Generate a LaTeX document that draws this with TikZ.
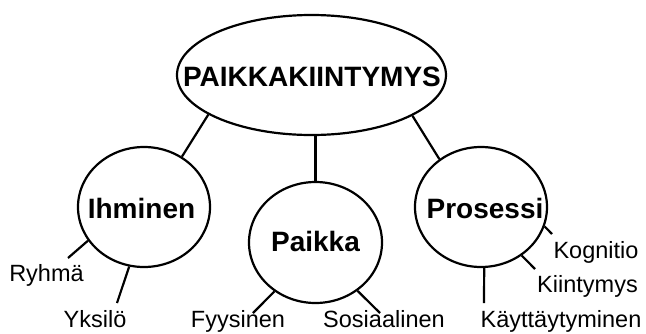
\documentclass[tikz,border=0pt]{standalone}
\usepackage{fontspec}
\setmainfont{Liberation Sans}
\usetikzlibrary{shapes.geometric, positioning, calc}

\begin{document}
\begin{tikzpicture}[x=1pt, y=-1pt, line width=2.2pt,
    blob/.style={draw, ellipse, inner sep=0pt},
    title/.style={inner sep=0pt, anchor=base, font=\fontsize{28}{28}\selectfont\bfseries},
    leaf/.style={inner sep=0pt, anchor=base, font=\fontsize{23.5}{23.5}\selectfont}]
    \useasboundingbox (0,0) rectangle (646,333);

    % Draw the main concept
    \node[blob, minimum width=269pt, minimum height=120pt] (top) at (311.5,75) {};
    \node[title] (top-t) at (312,86) {PAIKKAKIINTYMYS};

    % Draw the three dimensions
    \node[blob, minimum width=132pt, minimum height=120pt] (ihminen) at (144,207) {};
    \node[title] (ihminen-t) at (141.5,218) {Ihminen};
    \node[blob, minimum width=133pt, minimum height=121pt] (paikka) at (315.5,242.5) {};
    \node[title] (paikka-t) at (315.5,251) {Paikka};
    \node[blob, minimum width=132pt, minimum height=120pt] (prosessi) at (481,207) {};
    \node[title] (prosessi-t) at (485,218) {Prosessi};

    % Connect the dimensions to the main concept
    \draw (top.201) -- (ihminen.53);
    \draw (top.south -| paikka.north) -- (paikka.north);
    \draw (top.338) -- (prosessi.131);

    % Draw the sub-concepts
    \node[leaf] (ryhma) at (46.5,281) {Ryhmä};
    \node[leaf] (yksilo) at (95,327) {Yksilö};
    \node[leaf] (fyysinen) at (238,327) {Fyysinen};
    \node[leaf] (sosiaalinen) at (384,327) {Sosiaalinen};
    \node[leaf] (kognitio) at (596,258) {Kognitio};
    \node[leaf] (kiintymys) at (587.5,292) {Kiintymys};
    \node[leaf] (kaytt) at (561,327) {Käyttäytyminen};

    % Free ends of the connectors
    \coordinate (ryhma-end) at (68,258);
    \coordinate (yksilo-end) at (117,303);
    \coordinate (fyysinen-end) at (253,313);
    \coordinate (sosiaalinen-end) at (380,313);
    \coordinate (kognitio-end) at (552,234);
    \coordinate (kiintymys-end) at (535,269);
    \coordinate (kaytt-end) at (484,303);

    % Connect the sub-concepts
    \draw (ihminen.211) -- (ryhma-end);
    \draw (ihminen.256) -- (yksilo-end);
    \draw (paikka.230) -- (fyysinen-end);
    \draw (paikka.311) -- (sosiaalinen-end);
    \draw (prosessi.343) -- (kognitio-end);
    \draw (prosessi.310) -- (kiintymys-end);
    \draw (prosessi.273) -- (kaytt-end);
\end{tikzpicture}
\end{document}
